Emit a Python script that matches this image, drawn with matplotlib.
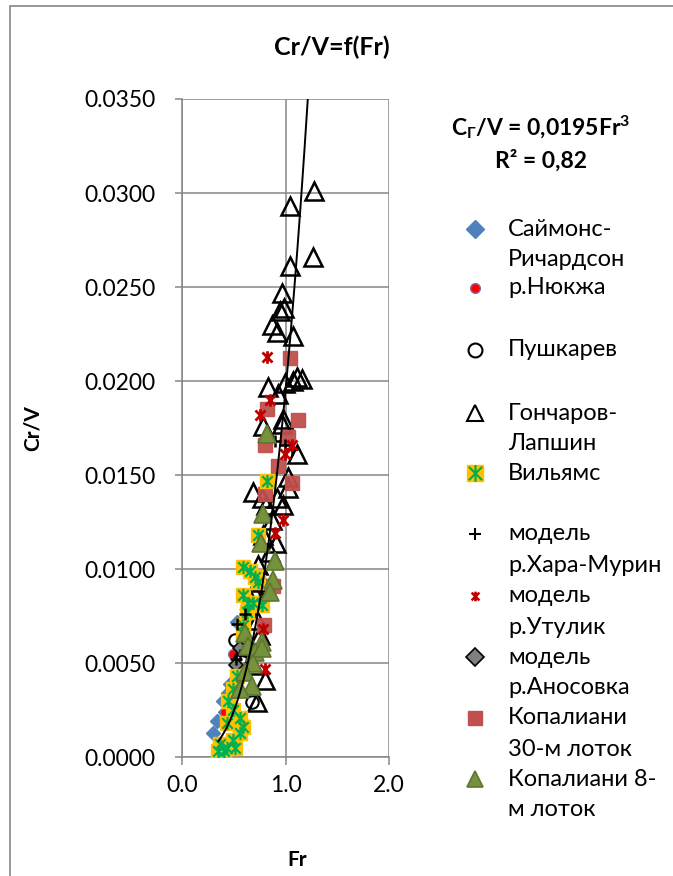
import numpy as np
import matplotlib
matplotlib.use("Agg")
import matplotlib.pyplot as plt
from matplotlib.path import Path
from matplotlib.patches import Rectangle

plt.rcParams['font.family'] = ['Lato', 'DejaVu Sans']
plt.rcParams['mathtext.fontset'] = 'custom'
plt.rcParams['mathtext.rm'] = 'Lato'
plt.rcParams['mathtext.bf'] = 'Lato:bold'
plt.rcParams['mathtext.it'] = 'Lato:italic'

# ---------------- data (Fr, Cr/V) ----------------
simons_x = [0.531, 0.464, 0.396, 0.415, 0.338, 0.300, 0.44]
simons_y = [0.0072, 0.0039, 0.0030, 0.0024, 0.0019, 0.0013, 0.0034]

nyukzha_x = [0.493, 0.415, 0.464]
nyukzha_y = [0.0055, 0.0024, 0.0036]

pushkarev_x = [0.56, 0.609, 0.676, 0.512, 0.686]
pushkarev_y = [0.0052, 0.0057, 0.0029, 0.0062, 0.0086]

goncharov_x = [1.275, 1.043, 1.266, 1.043, 0.966, 0.985, 0.947, 0.870, 0.918, 1.072,
               0.831, 0.995, 1.072, 1.159, 1.110, 0.928, 0.976, 0.783, 0.966, 1.110,
               1.024, 1.024, 0.686, 0.773, 0.918, 0.870, 0.783, 0.850, 0.734, 0.773,
               0.657, 0.725, 0.754, 0.802, 0.725, 0.686, 0.810, 0.976, 0.908, 0.705]
goncharov_y = [0.0301, 0.0293, 0.0266, 0.0261, 0.0247, 0.0239, 0.0237, 0.0230, 0.0226, 0.0224,
               0.0197, 0.0199, 0.0200, 0.0201, 0.0202, 0.0193, 0.0180, 0.0176, 0.0177, 0.0161,
               0.0149, 0.0143, 0.0141, 0.0138, 0.0138, 0.0126, 0.0118, 0.0109, 0.0102, 0.0093,
               0.0084, 0.0073, 0.0065, 0.0041, 0.0029, 0.0049, 0.0134, 0.0134, 0.0114, 0.0090]

williams_x = [0.821, 0.734, 0.589, 0.657, 0.705, 0.734, 0.589, 0.638, 0.773, 0.686,
              0.589, 0.531, 0.493, 0.444, 0.493, 0.560, 0.435, 0.589, 0.560, 0.493,
              0.367, 0.435, 0.348, 0.406, 0.510, 0.628, 0.590]
williams_y = [0.0147, 0.0118, 0.0101, 0.0099, 0.0096, 0.0093, 0.0086, 0.0082, 0.0081, 0.0082,
              0.0066, 0.0043, 0.0036, 0.0030, 0.0025, 0.0021, 0.0018, 0.0016, 0.0013, 0.0009,
              0.0007, 0.0005, 0.0003, 0.0003, 0.0005, 0.0077, 0.0070]

haramurin_x = [0.899, 0.995, 1.063, 0.531, 0.609, 0.522, 0.560]
haramurin_y = [0.0168, 0.0166, 0.0164, 0.0071, 0.0076, 0.0052, 0.0054]

utulik_x = [0.821, 0.850, 0.754, 1.063, 0.995, 0.976, 0.899, 0.783, 0.802]
utulik_y = [0.0213, 0.0190, 0.0182, 0.0166, 0.0161, 0.0126, 0.0119, 0.0068, 0.0047]

anosovka_x = [0.56, 0.52]
anosovka_y = [0.0058, 0.0049]

kop30_x = [1.043, 0.821, 1.121, 0.802, 1.024, 0.928, 1.063, 0.802, 0.879, 0.792]
kop30_y = [0.0212, 0.0185, 0.0179, 0.0166, 0.0170, 0.0155, 0.0146, 0.0140, 0.0091, 0.0070]

kop8_x = [0.821, 0.783, 0.763, 0.899, 0.879, 0.850, 0.609, 0.773, 0.638, 0.705,
          0.686, 0.609, 0.676, 0.560, 0.773]
kop8_y = [0.0172, 0.0129, 0.0114, 0.0104, 0.0094, 0.0088, 0.0066, 0.0061, 0.0059, 0.0056,
          0.0050, 0.0045, 0.0038, 0.0036, 0.0058]

fit_coef = 0.0195
fit_x_range = [0.35, 1.215]

yticks = [0.0, 0.005, 0.010, 0.015, 0.020, 0.025, 0.030, 0.035]
xticks = [0.0, 1.0, 2.0]

# ---------------- styles ----------------
star = Path([(-1, -1), (1, 1), (-1, 1), (1, -1), (0, -1.25), (0, 1.25)],
            [Path.MOVETO, Path.LINETO, Path.MOVETO, Path.LINETO, Path.MOVETO, Path.LINETO])
grid_c = '#868686'
orange = '#FFC000'
green = '#00B050'
red_sq = '#C0504D'
olive = '#76923C'
olive_e = '#5F7530'
blue = '#4F81BD'
dark_red = '#C00000'

W, H = 673, 876
fig = plt.figure(figsize=(W / 100, H / 100), dpi=100)
ax = fig.add_axes([182 / W, 1 - 757 / H, (389 - 182) / W, (757 - 99) / H])

# outer chart border
fig.add_artist(Rectangle((10 / W, -0.1), 1.2, 1 - 6 / H + 0.1, transform=fig.transFigure,
                         fill=False, edgecolor=grid_c, linewidth=1.2))

ax.set_xlim(0, 2.0)
ax.set_ylim(0, 0.035)
ax.set_yticks(yticks)
ax.set_yticklabels([f"{v:.4f}" for v in yticks])
ax.set_xticks(xticks)
ax.set_xticklabels([f"{v:.1f}" for v in xticks])
ax.grid(True, color=grid_c, linewidth=1.1)
ax.set_axisbelow(True)
for s in ['top', 'right']:
    ax.spines[s].set_visible(False)
for s in ['left', 'bottom']:
    ax.spines[s].set_color(grid_c)
    ax.spines[s].set_linewidth(1.1)
ax.tick_params(axis='y', direction='out', length=5, width=1.1, color=grid_c, pad=14, labelsize=16.5)
ax.tick_params(axis='x', direction='out', length=6, width=1.1, color=grid_c, pad=7, labelsize=16.5)

ax.plot(simons_x, simons_y, 'D', ms=7, color=blue, mec=blue, ls='none', zorder=3)
ax.plot(nyukzha_x, nyukzha_y, 'o', ms=7, color='red', mec='#7F6AA8', mew=1, ls='none', zorder=3)
ax.plot(pushkarev_x, pushkarev_y, 'o', ms=9, mfc='none', mec='black', mew=1.5, ls='none', zorder=3)
ax.plot(goncharov_x, goncharov_y, '^', ms=12.5, mfc='none', mec='black', mew=1.8, ls='none', zorder=3)
ax.plot(williams_x, williams_y, 's', ms=9.5, color=orange, mec=orange, ls='none', zorder=4)
ax.plot(williams_x, williams_y, marker=star, ms=9.5, mec=green, mew=1.6, ls='none', zorder=4)
ax.plot(haramurin_x, haramurin_y, '+', ms=9, mec='black', mew=1.8, ls='none', zorder=4)
ax.plot(utulik_x, utulik_y, marker=star, ms=9, mec=dark_red, mew=2, ls='none', zorder=4)
ax.plot(anosovka_x, anosovka_y, 'D', ms=7, color='#7F7F7F', mec='black', mew=1.2, ls='none', zorder=3)
ax.plot(kop30_x, kop30_y, 's', ms=10, color=red_sq, mec=red_sq, alpha=0.95, ls='none', zorder=3)
ax.plot(kop8_x, kop8_y, '^', ms=13, color=olive, mec=olive_e, mew=1.2, ls='none', zorder=5)

fx = np.linspace(fit_x_range[0], fit_x_range[1], 200)
ax.plot(fx, fit_coef * fx ** 3, color='black', lw=1.4, zorder=6)

# ---------------- overlay (title, labels, legend) ----------------
ov = fig.add_axes([0, 0, 1, 1], facecolor='none')
ov.set_xlim(0, W)
ov.set_ylim(H, 0)
ov.axis('off')

ov.text(332, 47, "Cr/V=f(Fr)", ha='center', va='center', fontsize=18, fontweight='bold')
ov.text(33, 428, "Cr/V", ha='center', va='center', rotation=90, fontsize=15, fontweight='bold')
ov.text(297, 860, "Fr", ha='center', va='center', fontsize=15, fontweight='bold')

ov.text(541, 135, r"C$_\mathbf{Г}$/V = 0,0195Fr$^\mathbf{3}$", ha='center', va='baseline',
        fontsize=16.5, fontweight='bold')
ov.text(541, 168, "R² = 0,82", ha='center', va='baseline', fontsize=16.5, fontweight='bold')

mx, tx = 475, 508
fs = 17
lh = 31
legend_items = [
    (229, ["Саймонс-", "Ричардсон"], dict(marker='D', ms=9, color=blue, mec=blue)),
    (288, ["р.Нюкжа"], dict(marker='o', ms=7, color='red', mec='#7F6AA8', mew=1)),
    (350, ["Пушкарев"], dict(marker='o', ms=10, mfc='none', mec='black', mew=1.5)),
    (413, ["Гончаров-", "Лапшин"], dict(marker='^', ms=11, mfc='none', mec='black', mew=1.5)),
    (473, ["Вильямс"], None),
    (534, ["модель", "р.Хара-Мурин"], dict(marker='+', ms=9, mec='black', mew=1.5)),
    (596, ["модель", "р.Утулик"], dict(marker=star, ms=7, mec=dark_red, mew=1.8)),
    (657, ["модель", "р.Аносовка"], dict(marker='D', ms=9, color='#7F7F7F', mec='black', mew=1.2)),
    (718, ["Копалиани", "30-м лоток"], dict(marker='s', ms=10, color=red_sq, mec=red_sq)),
    (779, ["Копалиани 8-", "м лоток"], dict(marker='^', ms=12, color=olive, mec=olive_e, mew=1.2)),
]
for y, lines, style in legend_items:
    if style is None:
        ov.plot([mx], [y], 's', ms=12, color=orange, mec=orange)
        ov.plot([mx], [y], marker=star, ms=12, mec=green, mew=1.6, ls='none')
    else:
        ov.plot([mx], [y], ls='none', **style)
    for i, ln in enumerate(lines):
        ov.text(tx, y + i * lh, ln, ha='left', va='center', fontsize=fs)

fig.savefig("out.png", dpi=100)
